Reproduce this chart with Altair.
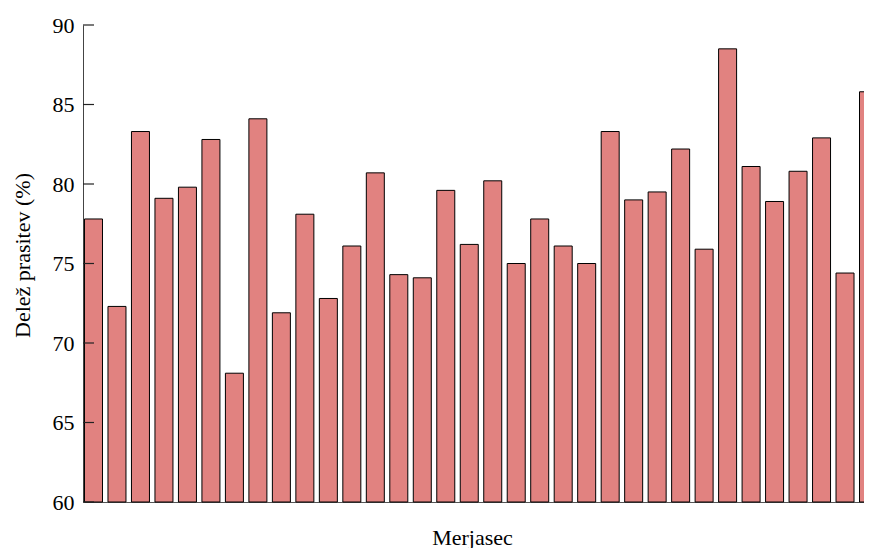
import altair as alt
import pandas as pd

# Data
merjasec = list(range(1, 35))
delez = [77.8, 72.3, 83.3, 79.1, 79.8, 82.8, 68.1, 84.1, 71.9, 78.1,
         72.8, 76.1, 80.7, 74.3, 74.1, 79.6, 76.2, 80.2, 75.0, 77.8,
         76.1, 75.0, 83.3, 79.0, 79.5, 82.2, 75.9, 88.5, 81.1, 78.9,
         80.8, 82.9, 74.4, 85.8]
y_ticks = [60, 65, 70, 75, 80, 85, 90]

df = pd.DataFrame({"Merjasec": merjasec, "Delez": delez})
ticks_df = pd.DataFrame({"t": y_ticks})

FONT = "Liberation Serif"

bars = alt.Chart(df).mark_bar(
    size=18, color="#E18280", stroke="black", strokeWidth=1, clip=False
).encode(
    x=alt.X(
        "Merjasec:Q",
        scale=alt.Scale(domain=[0.553, 33.808], nice=False, zero=False, padding=0),
        axis=alt.Axis(
            title="Merjasec", labels=False, ticks=False, grid=False,
            domainColor="#555555", titleX=389, titleY=42,
            titleBaseline="alphabetic",
        ),
    ),
    y=alt.Y(
        "Delez:Q",
        scale=alt.Scale(domain=[60, 90], nice=False, zero=False, padding=0),
        axis=alt.Axis(
            title="Delež prasitev (%)", values=y_ticks, ticks=False, tickSize=0,
            grid=False, labelPadding=9, domainColor="#444444",
            titleX=-61, titleY=230, titleBaseline="middle", titleAngle=270,
        ),
    ),
    y2=alt.datum(60),
)

tick_marks = alt.Chart(ticks_df).mark_rule(color="#222222", strokeWidth=1.2).encode(
    y=alt.Y("t:Q"),
    x=alt.value(0),
    x2=alt.value(11),
)

chart = alt.layer(bars, tick_marks).properties(
    width=781,
    height=477,
    autosize=alt.AutoSizeParams(type="none"),
    padding={"left": 75, "top": 17, "right": 0, "bottom": 46},
).configure_axis(
    labelFont=FONT, titleFont=FONT, labelFontSize=22, titleFontSize=22,
    titleFontWeight="normal", labelColor="black", titleColor="black",
).configure_view(strokeWidth=0)

chart.save("out.html", embed_options={"renderer": "svg", "actions": False})
